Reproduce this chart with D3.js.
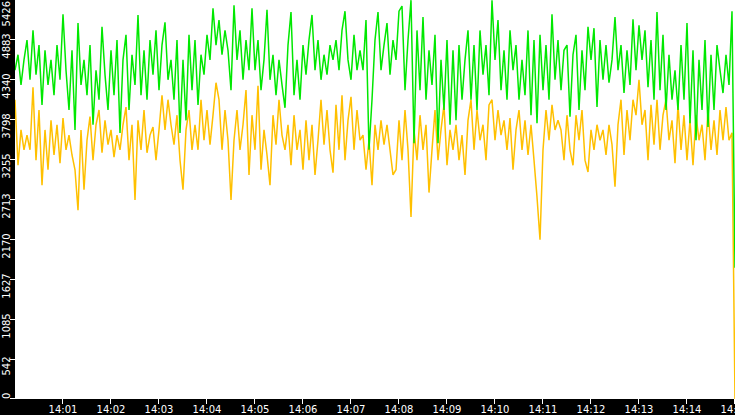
<!DOCTYPE html>
<html><head><meta charset="utf-8">
<script src="https://cdn.jsdelivr.net/npm/d3@7"></script>
<style>html,body{margin:0;padding:0;background:#000;}svg{display:block;}</style>
</head><body>
<svg id="c" width="735" height="415"></svg>
<script>
// Series values (one sample every 3.75 s from 14:00:00 to 14:15:00)
const greenValues = [
4460,4670,4260,4600,4870,4330, 5000,4400,4800,3990,4730,4260, 4600,4120,4800,4330,5220,
4460,3920,4730,3650,5100,4260, 4600,4120,4800,3720,4460,4060, 5050,4400,3920,4730,4120,
4870,3610,4600,4940,3920, 4670,4260,5210,4120,4730, 4060,4870,4400,5000,4190,4800,
5110,4330,4600,4060,4870,3610, 4600,3780,4940,4190,4870,3990, 4670,4400,4940,4600,5300,
4800,5140,4670,5000,4730,4190, 5340,4600,5000,4330,4870,4460, 5300,4460,4870,4190,4600,5280,
4330,4670,4120,4600,4260,3950, 4800,5250,4120,4600,4060,4800, 4400,4870,5210,4460,4870,4330,
4670,4400,4800,4600,4870,4460, 5000,5260,4600,4330,4940,4460, 4730,4460,5140,3380,4060,4870,
5250,4460,4800,5100,4400,4870, 4600,5260,5330,4190,4870,5410,3470, 5000,4190,5180,4060,4730,4260,
4940,3470,4600,3920,4870,3720, 4730,3780,4800,4060,4600, 5000,4060,4800,3920,5000,4400,
4800,4120,5410,4600, 5140,4190,4730,4060,5000,4460, 4800,4060,4600,4120,5000,3850,
4870,3740,4940,4190,4800,4060, 5220,4330,4870,4190,4730, 4800,3830,4670, 4940,3920,4730,4190,5050,
4600,5030,3960,4870,4330, 4800,4290,4600,5180, 4460,4800,4150,4730,4260, 5150,4460,5070,4600,
5000,4230,4870,4060,5250, 4190,4940,3920,4670,4060, 4460,3920,4800,4060,5100,
3740,4730,3510,4600,3920, 4870,3690,4670,3920,4800, 4460,4150,4670,4260, 5260, 1780
];
const yellowValues = [
4060,3170,3650,3380,3580,3380,4230,3240,3920,2900, 3650,3110,3780,3310,3720,3200,3810,3380,3580,3310,
3110,2560,3650,2840,3510,3830,3240,3720,3920,3340, 3780,3450,3650,3280,3580,3380,3720,3960,3240,3720,
2700,3780,3380,3920,3340,3580,3690,3240,3650,4120, 3650,4060,3720,3450,3850,3240,2840,3650,3920,3380,
3720,3380,4060,3510,3920,3450,3850,4290,4060,3380, 3920,3510,2700,3510,3920,3380,3720,4190,3040,3850,
3380,4250,3110,3650,3310,2900,3850,3450,4060,3580, 3380,3720,3170,3850,3380,3650,3110,3780,3240,3720,
3040,3510,4060,3450,3920,3380,3070,3990,3380,4120, 3240,3780,4100,3380,3920,3510,3580,3110,3510,2900,
3720,3380,3780,3450,3720,3380,3040,3110,3780,3240, 3920,3380,2470,3650,3240,3850,3380,3720,2800,3380,
3920,3240,3650,3990,3170,3650,3380,3720,3240,3580, 3040,3780,4060,3380,3920,3510,3720,3240,3990,4060,
3510,3920,3580,3780,3380,3810,3110,3650,3920,3380, 3780,3310,3720,3240,2740,2160,3380,3920,3510,3990,
3650,3780,3650,3240,3850,3380,3170,3850,3510,3920, 3240,3080,3650,3380,3720,3510,3650,3310,3720,3450,
2880,3720,4060,3310,3920,3510,4060,3850,4330,3720, 3920,3240,3990,3450,4060,3380,3850,4060,3510,3780,
3200,3990,3380,3850,3240,3780,3170,3850,3510,3720, 3240,3920,3380,3780,3310,3920,3510,3960,3510,3610,
0
];
const yTickLabels = ["0","542","1085","1627","2170","2713","3255","3798","4340","4883","5426"];
const xTickLabels = ["14:01","14:02","14:03","14:04","14:05","14:06","14:07","14:08","14:09","14:10","14:11","14:12","14:13","14:14","14:15"];
const yMax = 5426;
const startTime = new Date(2020, 0, 1, 14, 0, 0);
const endTime = new Date(2020, 0, 1, 14, 15, 0);
const sampleSeconds = 3.75;

const W = 735, H = 415;
const left = 15, bottom = 399;
const svg = d3.select("#c");
svg.append("rect").attr("width", W).attr("height", H).attr("fill", "#000");
svg.append("rect").attr("x", left).attr("y", 0).attr("width", W - left).attr("height", bottom).attr("fill", "#fff");

const x = d3.scaleTime().domain([startTime, endTime]).range([left, W]);
const y = d3.scaleLinear().domain([0, yMax]).range([bottom, -1]);
const t = i => new Date(startTime.getTime() + i * sampleSeconds * 1000);

const line = d3.line().x((d, i) => x(t(i))).y(d => y(d));
svg.append("clipPath").attr("id", "clip").append("rect").attr("x", left).attr("y", 0).attr("width", W - left).attr("height", bottom + 1);
const g = svg.append("g").attr("clip-path", "url(#clip)");
g.append("path").datum(yellowValues).attr("d", line).attr("fill", "none")
  .attr("stroke", "#ffc000").attr("stroke-width", 1.5).attr("stroke-linejoin", "miter").attr("stroke-miterlimit", 2);
g.append("path").datum(greenValues).attr("d", line).attr("fill", "none")
  .attr("stroke", "#00e800").attr("stroke-width", 1.5).attr("stroke-linejoin", "miter").attr("stroke-miterlimit", 2);

// Y axis
const yTicks = yTickLabels.map((l, i) => i * yMax / 10);
const ya = svg.append("g");
yTicks.forEach((v, i) => {
  const yy = Math.min(Math.round(y(v)) + 0.5, bottom - 0.5);
  ya.append("line").attr("x1", 10).attr("x2", left).attr("y1", yy).attr("y2", yy)
    .attr("stroke", "#fff").attr("stroke-width", 1);
  const last = i === yTicks.length - 1, first = i === 0;
  ya.append("text").attr("transform", `translate(10,${last ? 1 : first ? bottom : y(v) + 7}) rotate(-90)`)
    .attr("text-anchor", last ? "end" : first ? "start" : "middle")
    .attr("fill", "#fff").attr("font-family", "DejaVu Sans, sans-serif").attr("font-size", "10px")
    .text(yTickLabels[i]);
});

// X axis
const xa = svg.append("g");
xTickLabels.forEach((l, i) => {
  const tt = new Date(startTime.getTime() + (i + 1) * 60000);
  const xx = Math.round(x(tt)) - 0.5;
  xa.append("line").attr("x1", xx).attr("x2", xx).attr("y1", bottom).attr("y2", bottom + 5)
    .attr("stroke", "#fff").attr("stroke-width", 1);
  xa.append("text").attr("x", x(tt)).attr("y", 413).attr("text-anchor", "middle")
    .attr("fill", "#fff").attr("font-family", "DejaVu Sans, sans-serif").attr("font-size", "10px")
    .text(l);
});
</script>
</body></html>
